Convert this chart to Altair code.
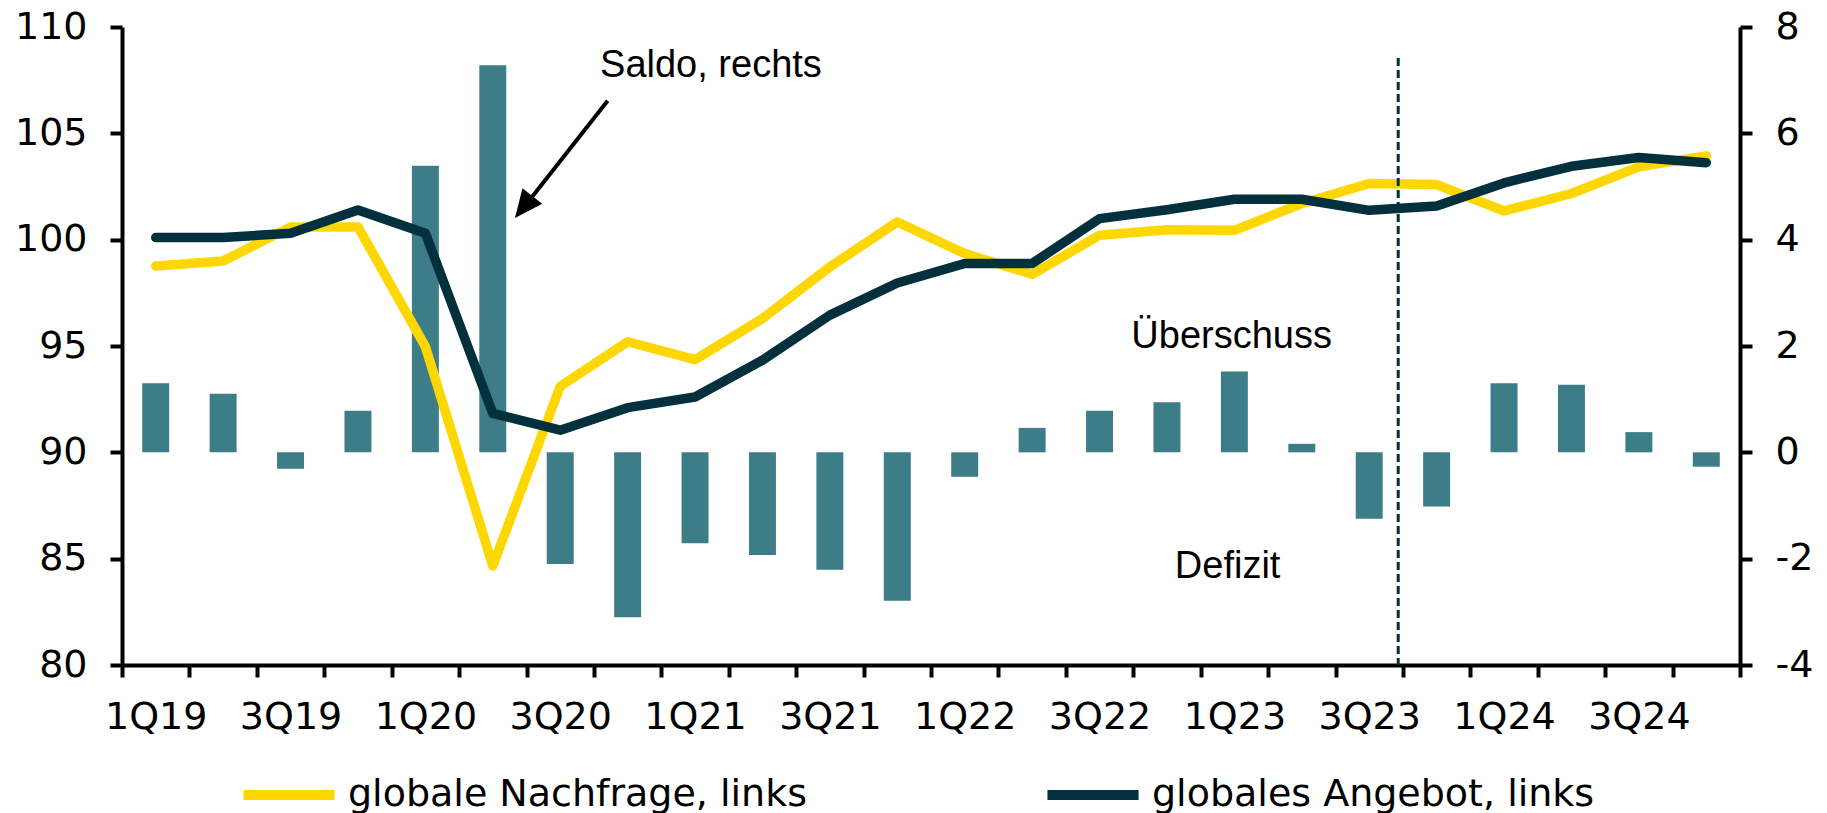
import altair as alt
import pandas as pd

# ---- data ----
quarters = ["1Q19", "2Q19", "3Q19", "4Q19", "1Q20", "2Q20", "3Q20", "4Q20",
            "1Q21", "2Q21", "3Q21", "4Q21", "1Q22", "2Q22", "3Q22", "4Q22",
            "1Q23", "2Q23", "3Q23", "4Q23", "1Q24", "2Q24", "3Q24", "4Q24"]
demand = [98.76, 99.0, 100.6, 100.6, 94.97, 84.66, 93.1, 95.2,
          94.36, 96.29, 98.72, 100.83, 99.35, 98.37, 100.21, 100.47,
          100.44, 101.7, 102.64, 102.59, 101.35, 102.17, 103.42, 103.94]
supply = [100.1, 100.1, 100.3, 101.4, 100.3, 91.83, 91.04, 92.1,
          92.6, 94.33, 96.45, 97.96, 98.88, 98.88, 100.99, 101.41,
          101.9, 101.9, 101.38, 101.58, 102.67, 103.45, 103.86, 103.62]
balance = [1.30, 1.10, -0.31, 0.78, 5.39, 7.28, -2.10, -3.10,
           -1.71, -1.93, -2.21, -2.79, -0.46, 0.46, 0.78, 0.94,
           1.52, 0.16, -1.25, -1.02, 1.30, 1.27, 0.38, -0.27]
tick_labels = quarters[::2]

series_names = ["globale Nachfrage, links", "globales Angebot, links"]
annotations = ["Saldo, rechts", "Überschuss", "Defizit"]

# ---- styles ----
YELLOW = "#FFD700"
DARK = "#03303D"
TEAL = "#3C7D87"
FONT_AX = "DejaVu Sans"
FONT_TX = "Liberation Sans"
LW = 9.5

n = len(quarters)
xs = [i + 0.5 for i in range(n)]

df_dem = pd.DataFrame({"x": xs, "value": demand, "series": series_names[0]})
df_sup = pd.DataFrame({"x": xs, "value": supply, "series": series_names[1]})
df_bar = pd.DataFrame({"x0": [i + 0.3 for i in range(n)],
                       "x1": [i + 0.7 for i in range(n)],
                       "value": balance})

xscale = alt.Scale(domain=[0, n], nice=False, zero=False)
yleft = alt.Scale(domain=[80, 110], nice=False, zero=False)
yright = alt.Scale(domain=[-4, 8], nice=False, zero=False)

common_ax = dict(
    tickSize=12, tickWidth=4, domainWidth=4, grid=False, title=None,
    labelOverlap=False, labelFlush=False, labelFontSize=38, labelFont=FONT_AX,
    labelColor="black", tickColor="black", domainColor="black",
)

label_arr = "[" + ",".join("'%s'" % t for t in tick_labels) + "]"
x_axis = alt.Axis(
    orient="bottom",
    values=list(range(n + 1)),
    labelExpr=f"(datum.value % 2 == 0 && datum.value < {n}) ? {label_arr}[datum.value/2] : ''",
    labelOffset=33.7, labelPadding=21, **common_ax,
)
left_axis = alt.Axis(
    orient="left", values=[80, 85, 90, 95, 100, 105, 110], labelPadding=23, **common_ax,
)
right_axis = alt.Axis(
    orient="right", values=[-4, -2, 0, 2, 4, 6, 8], labelPadding=23,
    labelExpr="datum.value < 0 ? '-' + abs(datum.value) : '' + datum.value",
    **common_ax,
)

stroke_scale = alt.Scale(domain=series_names, range=[YELLOW, DARK])
legend = alt.Legend(
    orient="none", legendX=116, legendY=717, direction="horizontal",
    title=None, symbolType="stroke", symbolSize=8300, symbolStrokeWidth=10,
    labelFontSize=38, labelFont=FONT_AX, labelColor="black", labelOffset=8,
    labelLimit=1000, columnPadding=220, padding=0,
)

X = lambda f: alt.X(f, scale=xscale, axis=x_axis)
YL = lambda f: alt.Y(f, scale=yleft, axis=left_axis)

bars = alt.Chart(df_bar).mark_bar(color=TEAL).encode(
    x=X("x0:Q"),
    x2="x1:Q",
    y=alt.Y("value:Q", scale=yright, axis=right_axis),
    y2=alt.datum(0),
)

line_dem = alt.Chart(df_dem).mark_line(strokeWidth=LW, strokeCap="round", strokeJoin="round").encode(
    x=X("x:Q"),
    y=YL("value:Q"),
    stroke=alt.Stroke("series:N", scale=stroke_scale, legend=legend),
)
line_sup = alt.Chart(df_sup).mark_line(strokeWidth=LW, strokeCap="round", strokeJoin="round").encode(
    x=X("x:Q"),
    y=YL("value:Q"),
    stroke=alt.Stroke("series:N", scale=stroke_scale, legend=legend),
)

# forecast divider
df_div = pd.DataFrame({"x": [18.93], "y": [108.54], "y2": [80.0]})
divider = alt.Chart(df_div).mark_rule(color=DARK, strokeWidth=3, strokeDash=[8, 4]).encode(
    x=X("x:Q"), y=YL("y:Q"), y2="y2:Q",
)

# arrow for "Saldo, rechts"
df_arrow = pd.DataFrame({"x": [7.204], "y": [106.535], "x2": [6.02], "y2": [101.76]})
arrow_line = alt.Chart(df_arrow).mark_rule(color="black", strokeWidth=4).encode(
    x=X("x:Q"), y=YL("y:Q"), x2="x2:Q", y2="y2:Q",
)
df_head = pd.DataFrame({"x": [5.829], "y": [101.02]})
arrow_head = alt.Chart(df_head).mark_point(
    shape="M0,0L0.45,1L-0.45,1Z", filled=True, color="black", opacity=1,
    size=3136, angle=218.3, strokeWidth=0,
).encode(x=X("x:Q"), y=YL("y:Q"))

df_txt = pd.DataFrame({"label": annotations, "x": [8.736, 16.46, 16.40], "y": [107.65, 94.91, 84.1]})
texts = alt.Chart(df_txt).mark_text(
    font=FONT_TX, fontSize=38, color="black", align="center", baseline="alphabetic",
).encode(x=X("x:Q"), y=YL("y:Q"), text="label:N")

left_layer = alt.layer(line_dem, line_sup, divider, arrow_line, arrow_head, texts)

chart = alt.layer(bars, left_layer).resolve_scale(y="independent").properties(
    width=1618, height=638,
    padding={"left": 114, "top": 19, "right": 79, "bottom": 148},
    autosize=alt.AutoSizeParams(type="none"),
    background="white",
).configure_view(stroke=None)

chart.save("out.html", embed_options={"renderer": "svg", "actions": False})
